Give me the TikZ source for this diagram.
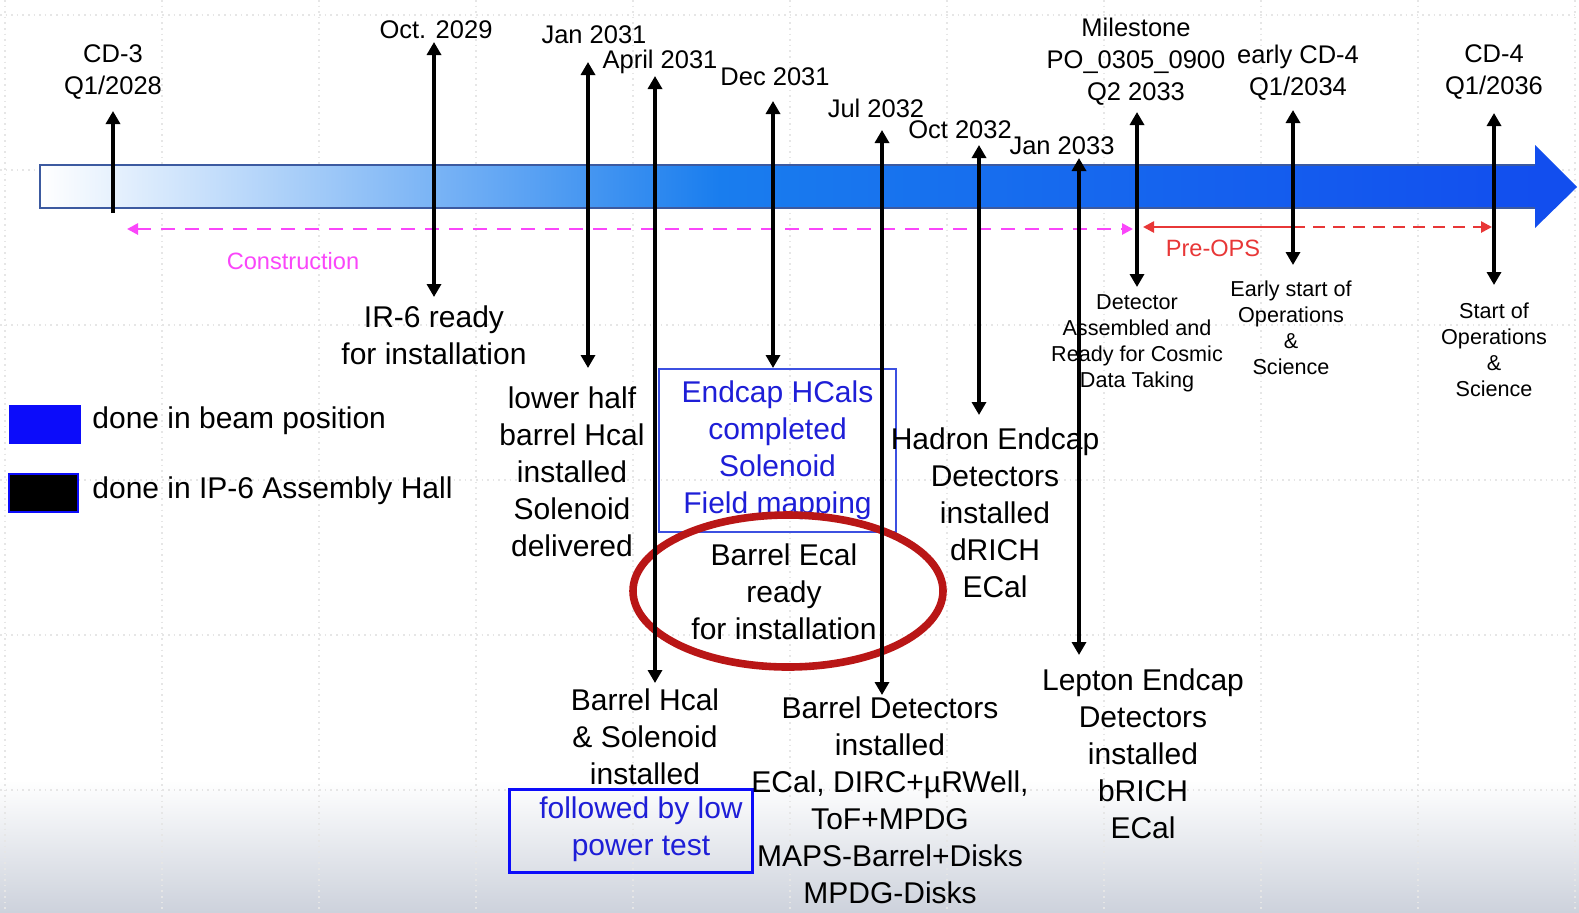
\documentclass[tikz,border=0pt]{standalone}
\usepackage{fontspec}
\setmainfont{Liberation Sans}
\usetikzlibrary{arrows.meta}
\definecolor{midblue}{RGB}{25,125,238}
\definecolor{deepblue}{RGB}{18,78,238}
\definecolor{bandline}{RGB}{60,90,160}
\definecolor{txtblue}{RGB}{30,30,215}
\definecolor{boxblue}{RGB}{60,80,225}
\definecolor{legblue}{RGB}{12,12,250}
\definecolor{conpink}{RGB}{250,70,250}
\definecolor{opsred}{RGB}{232,55,55}
\definecolor{ringred}{RGB}{185,22,22}
\definecolor{gridgray}{RGB}{230,230,230}
\definecolor{bgfade}{RGB}{205,210,220}

\begin{document}
\begin{tikzpicture}[x=0.5pt, y=-0.5pt,
    big/.style={font=\fontsize{15}{18.5}\selectfont, align=center, inner sep=0pt},
    mid/.style={font=\fontsize{12.75}{16}\selectfont, align=center, inner sep=0pt},
    small/.style={font=\fontsize{10.8}{13}\selectfont, align=center, inner sep=0pt},
    onearrow/.style={line width=1.7pt, -{Triangle[length=6.5pt,width=7pt]}},
    twoarrow/.style={line width=1.7pt, {Triangle[length=6.5pt,width=7pt]}-{Triangle[length=6.5pt,width=7pt]}}]
    \useasboundingbox (0,0) rectangle (1579,912);
    \fill[white] (0,0) rectangle (1579,912);
    \shade[top color=white, bottom color=bgfade] (0,780) rectangle (1579,912);
    \foreach \gx in {5,162,...,1575} \draw[gridgray, dotted, line width=0.8pt] (\gx,0) -- (\gx,912);
    \foreach \gy in {15,170,...,790} \draw[gridgray, dotted, line width=0.8pt] (0,\gy) -- (1579,\gy);

    % time band
    \shade[left color=white, right color=midblue] (40,165) rectangle (720,208);
    \shade[left color=midblue, right color=deepblue] (720,165) rectangle (1536,208);
    \fill[deepblue] (1535,145) -- (1577,187) -- (1535,228) -- cycle;
    \draw[bandline, line width=0.6pt] (1535,165) -- (40,165) -- (40,208) -- (1535,208);

    % legend
    \fill[legblue] (9,405) rectangle (81,444);
    \node[big, anchor=west] (legbeam) at (92,421) {done in beam position};
    \filldraw[fill=black, draw=legblue, line width=0.6pt] (9,474) rectangle (78,512);
    \node[big, anchor=west] (leghall) at (92,491) {done in IP-6 Assembly Hall};

    % phases
    \coordinate (conL) at (127,229);
    \coordinate (conR) at (1133,229);
    \draw[conpink, line width=1.3pt, dash pattern=on 7pt off 5pt, {Triangle[length=5.5pt,width=5.5pt]}-{Triangle[length=5.5pt,width=5.5pt]}] (conL) -- (conR);
    \node[small, font=\fontsize{11.8}{14}\selectfont, text=conpink] (constr) at (293,261) {Construction};
    \coordinate (preL) at (1143,227);
    \coordinate (preM) at (1293,227);
    \coordinate (preR) at (1492,227);
    \draw[opsred, line width=1.3pt, {Triangle[length=5.5pt,width=5.5pt]}-] (preL) -- (preM);
    \draw[opsred, line width=1.3pt, dash pattern=on 6pt off 4pt, -{Triangle[length=5.5pt,width=5.5pt]}] (preM) -- (preR);
    \node[small, font=\fontsize{11.8}{14}\selectfont, text=opsred] (preops) at (1213,248) {Pre-OPS};

    % dates
    \node[mid] (cd3) at (113,72) {CD-3\\Q1/2028};
    \node[mid] (oct29) at (436,30) {Oct. 2029};
    \node[mid] (jan31) at (594,35) {Jan 2031};
    \node[mid] (apr31) at (660,62) {April 2031};
    \node[mid] (dec31) at (775,77) {Dec 2031};
    \node[mid] (jul32) at (876,108) {Jul 2032};
    \node[mid] (oct32) at (960,130) {Oct 2032};
    \node[mid] (jan33) at (1062,146) {Jan 2033};
    \node[mid] (mstone) at (1136,62) {Milestone\\PO\_0305\_0900\\Q2 2033};
    \node[mid] (ecd4) at (1298,73) {early CD-4\\Q1/2034};
    \node[mid] (cd4) at (1494,72) {CD-4\\Q1/2036};

    % what happens
    \node[big] (ir6) at (434,335) {IR-6 ready\\for installation};
    \node[big] (lowhalf) at (572,472) {lower half\\barrel Hcal\\installed\\Solenoid\\delivered};
    \node[big, text=txtblue, draw=boxblue, line width=0.8pt, minimum width=118.5pt, minimum height=81.5pt] (endcap) at (777.5,450.5) {Endcap HCals\\completed\\Solenoid\\Field mapping};
    \node[big] (becal) at (784,592) {Barrel Ecal\\ready\\for installation};
    \draw[ringred, line width=3.8pt] (788,591) ellipse [x radius=155, y radius=76];
    \node[big] (bhcal) at (645,737) {Barrel Hcal\\\& Solenoid\\installed};
    \node[draw=legblue, line width=1.5pt, minimum width=121.5pt, minimum height=41.5pt, inner sep=0pt] (lowbox) at (630.5,830.5) {};
    \node[big, text=txtblue] (lowtxt) at (641,829) {followed by low\\power test};
    \node[big] (bdet) at (890,800) {Barrel Detectors\\installed\\ECal, DIRC+µRWell,\\ToF+MPDG\\MAPS-Barrel+Disks\\MPDG-Disks};
    \node[big] (hadron) at (995,513) {Hadron Endcap\\Detectors\\installed\\dRICH\\ECal};
    \node[big] (lepton) at (1143,754) {Lepton Endcap\\Detectors\\installed\\bRICH\\ECal};
    \node[small] (cosmic) at (1137,343) {Detector\\Assembled and\\Ready for Cosmic\\Data Taking};
    \node[small] (early) at (1291,328) {Early start of\\Operations\\\&\\Science};
    \node[small] (start) at (1494,350) {Start of\\Operations\\\&\\Science};

    % arrows
    \coordinate (cd3t) at (113,111);   \coordinate (cd3b) at (113,213);
    \coordinate (oct29t) at (434,42);  \coordinate (oct29b) at (434,297);
    \coordinate (jan31t) at (588,62);  \coordinate (jan31b) at (588,368);
    \coordinate (apr31t) at (655,76);  \coordinate (apr31b) at (655,683);
    \coordinate (dec31t) at (773,101); \coordinate (dec31b) at (773,368);
    \coordinate (jul32t) at (882,130); \coordinate (jul32b) at (882,695);
    \coordinate (oct32t) at (979,145); \coordinate (oct32b) at (979,415);
    \coordinate (jan33t) at (1079,158); \coordinate (jan33b) at (1079,655);
    \coordinate (mstonet) at (1137,112); \coordinate (mstoneb) at (1137,287);
    \coordinate (ecd4t) at (1293,110);  \coordinate (ecd4b) at (1293,265);
    \coordinate (cd4t) at (1494,113);   \coordinate (cd4b) at (1494,285);
    \draw[onearrow] (cd3b) -- (cd3t);
    \draw[twoarrow] (oct29t) -- (oct29b);
    \draw[twoarrow] (jan31t) -- (jan31b);
    \draw[twoarrow] (apr31t) -- (apr31b);
    \draw[twoarrow] (dec31t) -- (dec31b);
    \draw[twoarrow] (jul32t) -- (jul32b);
    \draw[twoarrow] (oct32t) -- (oct32b);
    \draw[twoarrow] (jan33t) -- (jan33b);
    \draw[twoarrow] (mstonet) -- (mstoneb);
    \draw[twoarrow] (ecd4t) -- (ecd4b);
    \draw[twoarrow] (cd4t) -- (cd4b);
\end{tikzpicture}
\end{document}
